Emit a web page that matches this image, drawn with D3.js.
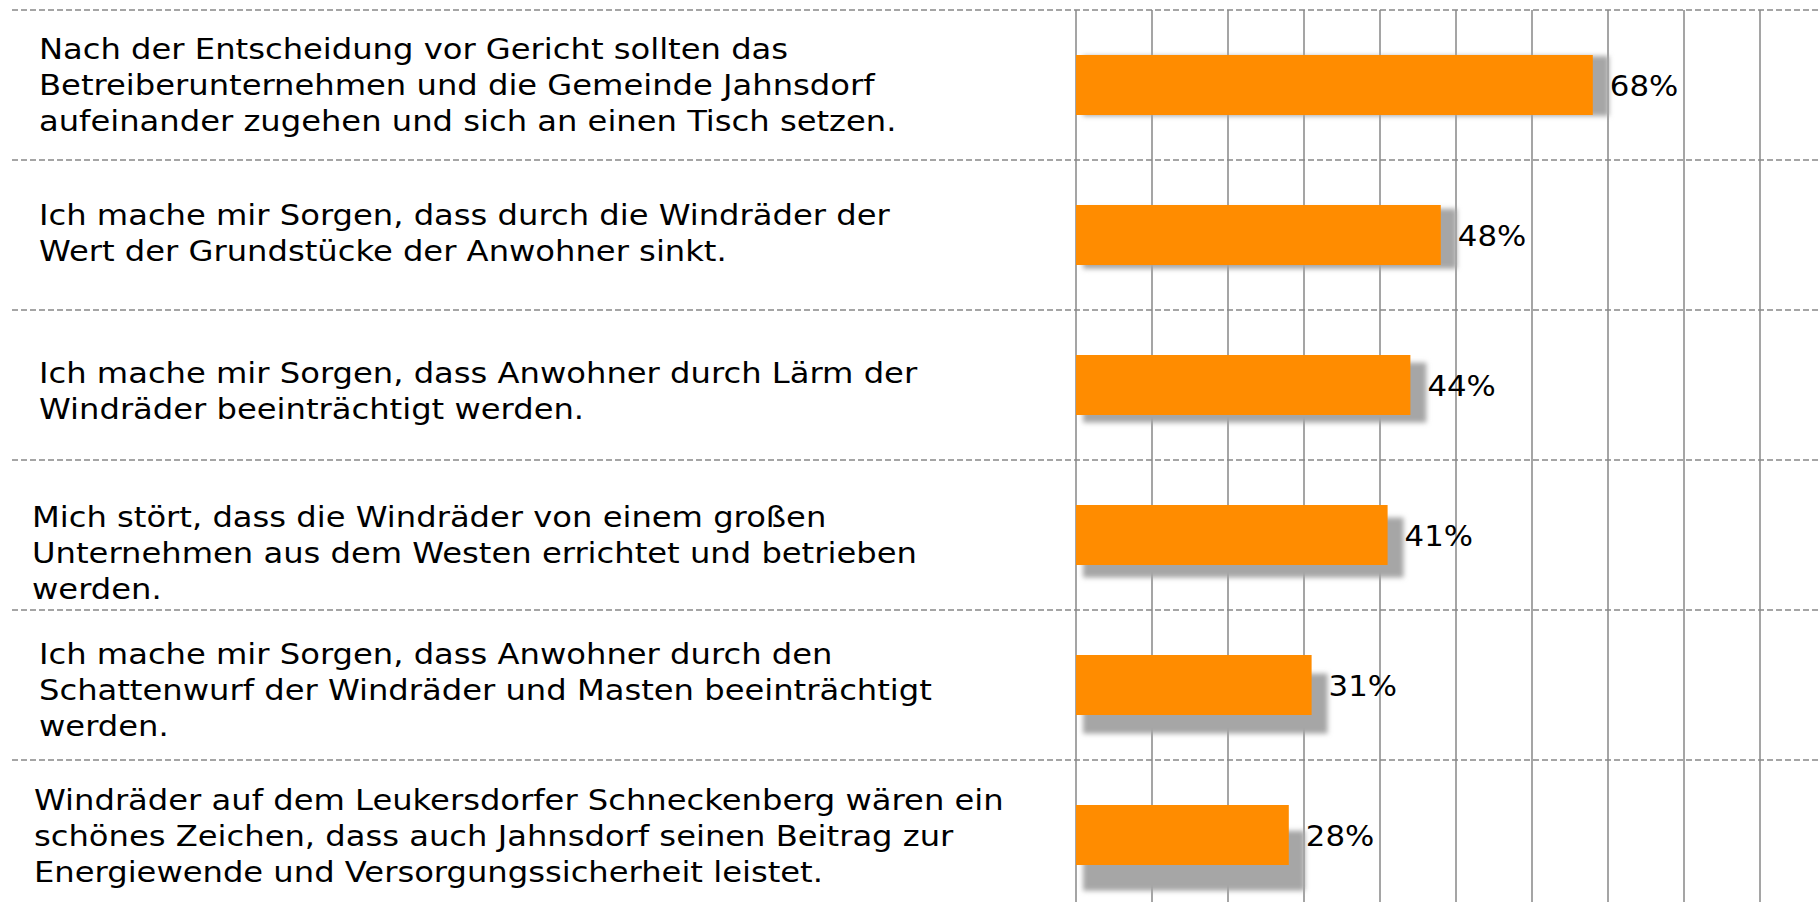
<!DOCTYPE html>
<html>
<head>
<meta charset="utf-8">
<script src="https://cdn.jsdelivr.net/npm/d3@7/dist/d3.min.js"></script>
<style>
  html, body { margin: 0; padding: 0; background: #ffffff; }
  svg { display: block; }
</style>
</head>
<body>
<svg id="chart" width="1819" height="902"></svg>
<script>
// ---- data ----
const categories = [
  "Nach der Entscheidung vor Gericht sollten das\nBetreiberunternehmen und die Gemeinde Jahnsdorf\naufeinander zugehen und sich an einen Tisch setzen.",
  "Ich mache mir Sorgen, dass durch die Windräder der\nWert der Grundstücke der Anwohner sinkt.",
  "Ich mache mir Sorgen, dass Anwohner durch Lärm der\nWindräder beeinträchtigt werden.",
  "Mich stört, dass die Windräder von einem großen\nUnternehmen aus dem Westen errichtet und betrieben\nwerden.",
  "Ich mache mir Sorgen, dass Anwohner durch den\nSchattenwurf der Windräder und Masten beeinträchtigt\nwerden.",
  "Windräder auf dem Leukersdorfer Schneckenberg wären ein\nschönes Zeichen, dass auch Jahnsdorf seinen Beitrag zur\nEnergiewende und Versorgungssicherheit leistet."
];
const values = [68, 48, 44, 41, 31, 28];
const gridTicks = [0, 10, 20, 30, 40, 50, 60, 70, 80, 90];
const valueLabels = values.map(v => v + "%");

// ---- layout / style ----
const W = 1819, H = 902;
const labelX = [39, 39, 39, 32, 39, 34];
const labelShift = [0, -2, 6, 18, 5, 1];
const fontFamily = "'DejaVu Sans', Verdana, sans-serif";
const textStretch = 1.13;
const valueStretch = 1.1;

const svg = d3.select("#chart");
const defs = svg.append("defs");
const f = defs.append("filter").attr("id", "shadow")
  .attr("x", "-20%").attr("y", "-50%").attr("width", "140%").attr("height", "200%");
f.append("feGaussianBlur").attr("stdDeviation", 2.6);
const f2 = defs.append("filter").attr("id", "lineShadow")
  .attr("x", "-5%").attr("y", "-500%").attr("width", "110%").attr("height", "1100%");
f2.append("feGaussianBlur").attr("stdDeviation", 2.5);

const x = d3.scaleLinear().domain([0, 100]).range([1076, 1836]);
const y = d3.scaleBand().domain(d3.range(categories.length)).range([10, 910]);
const barH = 60;

// vertical gridlines
svg.append("g").selectAll("line").data(gridTicks).join("line")
  .attr("x1", d => x(d)).attr("x2", d => x(d))
  .attr("y1", 10).attr("y2", H)
  .attr("stroke", "#8f8f8f").attr("stroke-width", 1.6);

// horizontal dashed separators (with soft shadow)
const seps = d3.range(categories.length).map(i => y(i));
const sepG = svg.append("g");
sepG.selectAll("line.sh").data(seps).join("line").attr("class", "sh")
  .attr("x1", 12).attr("x2", W).attr("y1", d => d + 4).attr("y2", d => d + 4)
  .attr("stroke", "#d8d8d8").attr("stroke-width", 4).attr("filter", "url(#lineShadow)");
sepG.selectAll("line.ds").data(seps).join("line").attr("class", "ds")
  .attr("x1", 12).attr("x2", W).attr("y1", d => d).attr("y2", d => d)
  .attr("stroke", "#888888").attr("stroke-width", 1.7).attr("stroke-dasharray", "6,3");

// bar shadows (perspective-like: offset grows down the chart)
const barTop = i => y(i) + (y.bandwidth() - barH) / 2;
const shadowDy = i => {
  const t = (barTop(i) - barTop(0)) / y.step();
  return 1 + 2.2 * t + 0.55 * t * t;
};
svg.append("g").selectAll("rect").data(values).join("rect")
  .attr("x", x(0) + 7)
  .attr("y", (d, i) => barTop(i) + shadowDy(i))
  .attr("width", d => x(d) - x(0) + 9)
  .attr("height", barH)
  .attr("fill", "#a6a6a6")
  .attr("filter", "url(#shadow)");

// bars
svg.append("g").selectAll("rect").data(values).join("rect")
  .attr("x", x(0))
  .attr("y", (d, i) => barTop(i))
  .attr("width", d => x(d) - x(0))
  .attr("height", barH)
  .attr("fill", "#ff8c00");

// value labels
svg.append("g").selectAll("text").data(values).join("text")
  .attr("transform", (d, i) => `translate(${x(d) + 17},${y(i) + y.bandwidth() / 2 + 11}) scale(${valueStretch},1)`)
  .attr("font-family", fontFamily)
  .attr("font-size", 28)
  .attr("fill", "#000")
  .text((d, i) => valueLabels[i]);

// category labels
const lineH = 36;
svg.append("g").selectAll("text").data(categories).join("text")
  .attr("font-family", fontFamily)
  .attr("font-size", 28.5)
  .attr("fill", "#000")
  .attr("transform", (d, i) => `translate(${labelX[i]},0) scale(${textStretch},1)`)
  .each(function(d, i) {
    const lines = d.split("\n");
    const cy = y(i) + y.bandwidth() / 2 + labelShift[i];
    const firstBase = cy - (lines.length - 1) * lineH / 2 + 10.5;
    const t = d3.select(this);
    lines.forEach((ln, k) => {
      t.append("tspan").attr("x", 0).attr("y", firstBase + k * lineH).text(ln);
    });
  });
</script>
</body>
</html>
